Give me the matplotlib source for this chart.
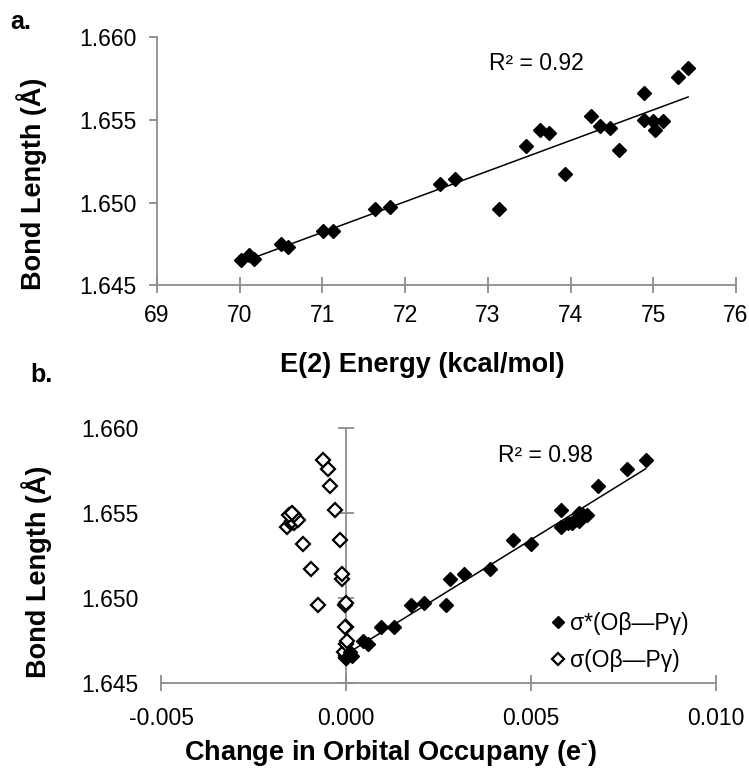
import numpy as np
import matplotlib
matplotlib.use('Agg')
import matplotlib.pyplot as plt

plt.rcParams['font.family'] = ['Liberation Sans', 'DejaVu Sans']
plt.rcParams['mathtext.fontset'] = 'custom'
plt.rcParams['mathtext.rm'] = 'Liberation Sans:bold'

# O(beta)-P(gamma) bond lengths (A), one value per structure
bond_length = [1.6465, 1.6466, 1.6468, 1.6473, 1.6475, 1.6483, 1.6483, 1.6496, 1.6496,
               1.6497, 1.6511, 1.6514, 1.6517, 1.6532, 1.6534, 1.6542, 1.6544, 1.6544,
               1.6545, 1.6546, 1.6549, 1.6549, 1.6550, 1.6552, 1.6566, 1.6576, 1.6581]

# second order perturbation energy E(2), kcal/mol
e2_energy = [70.01, 70.17, 70.11, 70.58, 70.50, 71.13, 71.01, 71.64, 73.14,
             71.82, 72.42, 72.60, 73.93, 74.59, 73.46, 73.74, 75.02, 73.63,
             74.48, 74.36, 75.12, 75.00, 74.89, 74.25, 74.89, 75.30, 75.42]

# change in orbital occupancy (e-) for sigma* and sigma of Obeta-Pgamma
occ_sigma_star = [0.0000, 0.00015, 0.0001, 0.0006, 0.00045, 0.0013, 0.00095, 0.00175, 0.0027,
                  0.0021, 0.0028, 0.0032, 0.0039, 0.0050, 0.0045, 0.0058, 0.0061, 0.0060,
                  0.0063, 0.0062, 0.0065, 0.0064, 0.0063, 0.0058, 0.0068, 0.0076, 0.0081]
occ_sigma = [0.0000, 0.0000, -0.00005, 0.0000, 0.00002, 0.00001, -0.00003, -0.00004, -0.00076,
             0.0000, -0.00012, -0.00010, -0.00095, -0.00115, -0.00017, -0.0016, -0.0015, -0.0014,
             -0.00145, -0.0013, -0.0014, -0.00155, -0.00145, -0.00030, -0.00044, -0.00050, -0.00063]

r2_energy = 0.92
r2_occ = 0.98

y_ticks = [1.645, 1.650, 1.655, 1.660]
x_ticks_a = [69, 70, 71, 72, 73, 74, 75, 76]
x_ticks_b = [-0.005, 0.000, 0.005, 0.010]

GREY = '#8c8c8c'
TICK_FS = 16.5
LABEL_FS = 19.5


def trendline(ax, x, y):
    x = np.array(x)
    y = np.array(y)
    k, b = np.polyfit(x, y, 1)
    xs = np.array([x.min(), x.max()])
    ax.plot(xs, k * xs + b, color='black', lw=1.1, zorder=2)


fig = plt.figure(figsize=(7.49, 7.71), dpi=100)

# ---- a. bond length vs E(2) energy
ax1 = fig.add_axes([0.2097, 0.630, 0.7730, 0.322])
ax1.plot(e2_energy, bond_length, linestyle='none', marker='D', ms=7.5,
         color='black', zorder=3, clip_on=False)
trendline(ax1, e2_energy, bond_length)
ax1.set_xlim(69, 76)
ax1.set_ylim(1.645, 1.660)
ax1.set_xticks(x_ticks_a)
ax1.set_xticklabels([str(v) for v in x_ticks_a])
ax1.set_yticks(y_ticks)
ax1.set_yticklabels(['%.3f' % v for v in y_ticks])
for s in ['top', 'right']:
    ax1.spines[s].set_visible(False)
for s in ['left', 'bottom']:
    ax1.spines[s].set_color(GREY)
    ax1.spines[s].set_linewidth(1.3)
ax1.tick_params(axis='x', direction='inout', length=11, width=1.3, color=GREY,
                labelsize=TICK_FS, pad=8)
ax1.tick_params(axis='y', direction='out', length=6, width=1.3, color=GREY,
                labelsize=TICK_FS, pad=9)
ax1.set_xlabel('E(2) Energy (kcal/mol)', fontsize=LABEL_FS, fontweight='bold', va='center')
ax1.set_ylabel('Bond Length (Å)', fontsize=LABEL_FS, fontweight='bold', va='center')
ax1.xaxis.set_label_coords(0.458, -0.322)
ax1.yaxis.set_label_coords(-0.217, 0.41)
ax1.text(73.59, 1.6584, 'R² = %.2f' % r2_energy, fontsize=TICK_FS, ha='center', va='center')

# ---- b. bond length vs change in orbital occupancy
ax2 = fig.add_axes([0.2150, 0.114, 0.7410, 0.331])
ax2.plot(occ_sigma_star, bond_length, linestyle='none', marker='D', ms=7.5,
         color='black', zorder=4, clip_on=False, label='σ*(Oβ—Pγ)')
ax2.plot(occ_sigma, bond_length, linestyle='none', marker='D', ms=7.5,
         markerfacecolor='white', markeredgecolor='black', markeredgewidth=1.6,
         zorder=3, clip_on=False, label='σ(Oβ—Pγ)')
trendline(ax2, occ_sigma_star, bond_length)
ax2.set_xlim(-0.005, 0.010)
ax2.set_ylim(1.645, 1.660)
ax2.set_xticks(x_ticks_b)
ax2.set_xticklabels(['%.3f' % v for v in x_ticks_b])
ax2.set_yticks(y_ticks)
ax2.set_yticklabels(['%.3f' % v for v in y_ticks])
for s in ['top', 'right', 'left']:
    ax2.spines[s].set_visible(False)
ax2.spines['bottom'].set_color(GREY)
ax2.spines['bottom'].set_linewidth(1.3)
ax2.tick_params(axis='x', direction='inout', length=11, width=1.3, color=GREY,
                labelsize=TICK_FS, pad=12)
ax2.tick_params(axis='y', length=0, labelsize=TICK_FS, pad=16)

# vertical axis crossing at zero occupancy change
yax0 = ax2.secondary_yaxis(0.0, transform=ax2.transData)
yax0.set_yticks(y_ticks)
yax0.tick_params(axis='y', direction='inout', length=11, width=1.3, color=GREY,
                 labelleft=False)
yax0.spines['left'].set_color(GREY)
yax0.spines['left'].set_linewidth(1.3)
yax0.set_zorder(1)

ax2.set_xlabel(r'Change in Orbital Occupany (e$^{\text{-}}$)', fontsize=LABEL_FS,
               fontweight='bold', va='center')
ax2.set_ylabel('Bond Length (Å)', fontsize=LABEL_FS, fontweight='bold', va='center')
ax2.xaxis.set_label_coords(0.413, -0.275)
ax2.yaxis.set_label_coords(-0.225, 0.435)
ax2.text(0.00539, 1.65835, 'R² = %.2f' % r2_occ, fontsize=TICK_FS, ha='center', va='center')
ax2.legend(loc='center left', bbox_to_anchor=(0.683, 0.16), frameon=False,
           fontsize=TICK_FS, markerscale=0.8, handlelength=0.6, handletextpad=0.2,
           borderpad=0, labelspacing=0.6)

fig.text(0.028, 0.9715, 'a.', fontsize=18, fontweight='bold', ha='center', va='center')
fig.text(0.055, 0.514, 'b.', fontsize=18, fontweight='bold', ha='center', va='center')

fig.savefig('out.png', dpi=100)
